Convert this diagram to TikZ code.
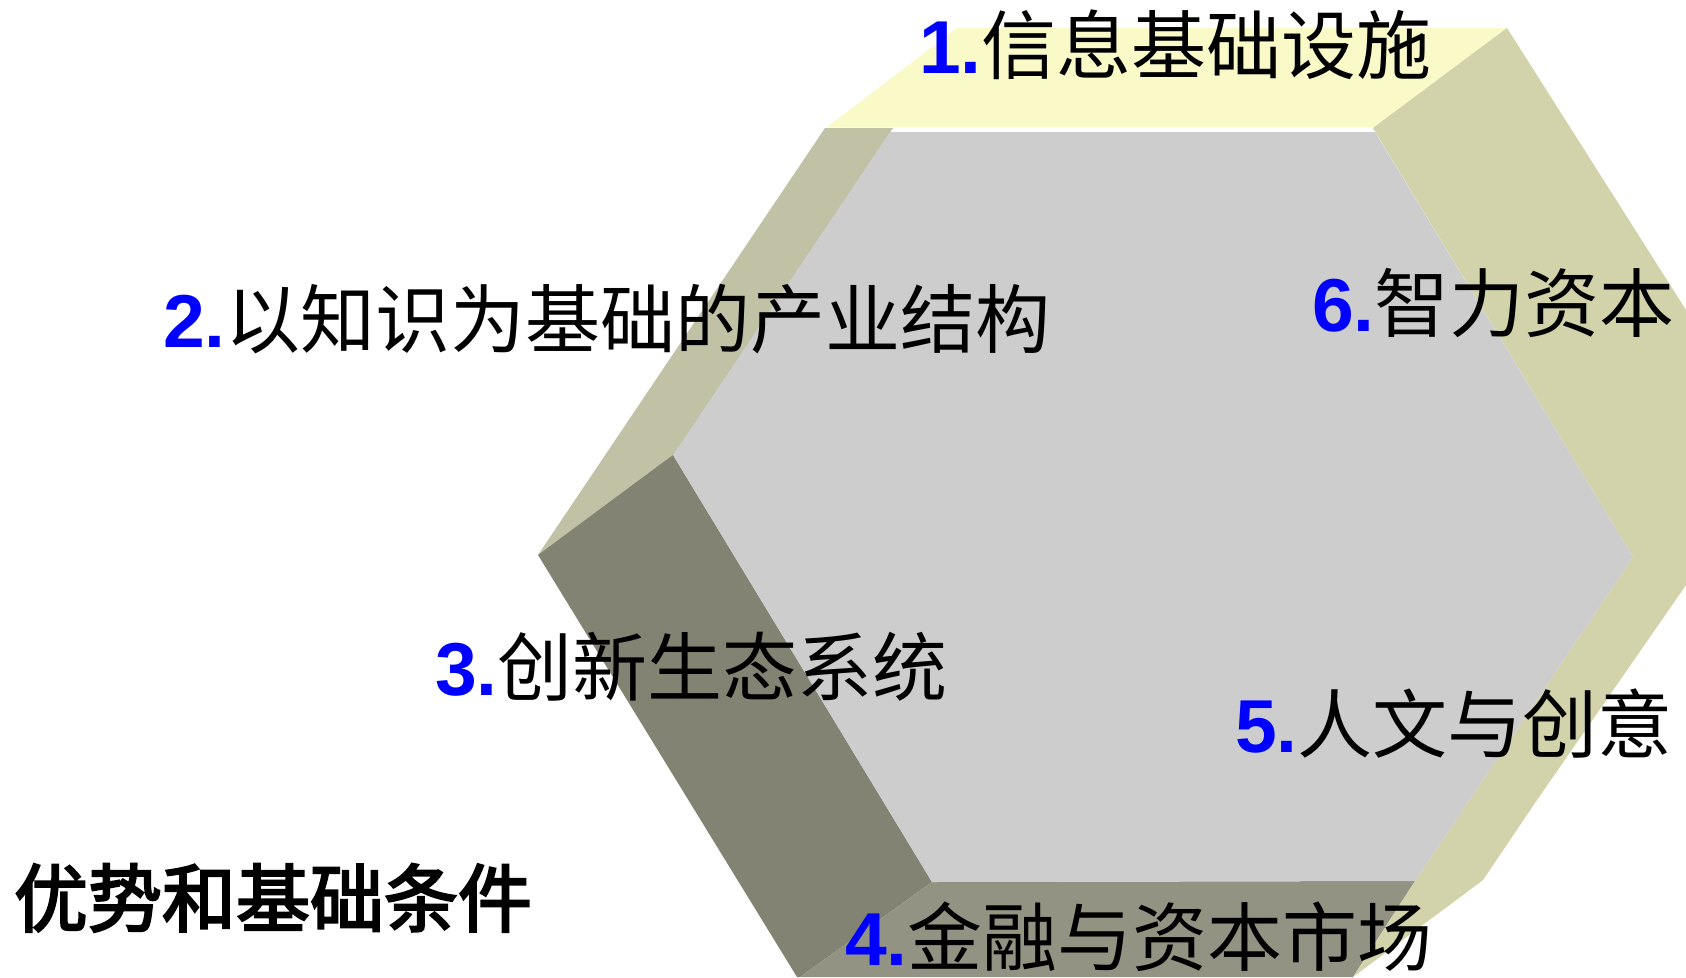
\documentclass[tikz,border=0pt]{standalone}
\usepackage{fontspec}
\newfontfamily\cjk{Noto Sans CJK SC}
\newfontfamily\cjkmid{Noto Sans CJK SC}[FakeBold=3]
\newfontfamily\arial{Liberation Sans}
\definecolor{topface}{HTML}{FAFAC8}
\definecolor{leftface}{HTML}{C1C1A6}
\definecolor{darkface}{HTML}{838373}
\definecolor{bottomface}{HTML}{939383}
\definecolor{rightface}{HTML}{D3D3AB}
\definecolor{innerface}{HTML}{CDCDCD}
\definecolor{numblue}{HTML}{0000FF}
\tikzset{
  lbl/.style={anchor=base west, inner sep=0pt, outer sep=0pt, font=\cjk\fontsize{75}{80}\selectfont, text=black},
  ttl/.style={anchor=base west, inner sep=0pt, outer sep=0pt, font=\cjkmid\fontsize{74}{80}\selectfont, text=black},
}
\newcommand{\numb}[1]{{\arial\bfseries\color{numblue}#1}}
\begin{document}
\begin{tikzpicture}[x=1pt,y=-1pt]
\useasboundingbox (0,0) rectangle (1686,977);
\fill[white] (0,0) rectangle (1686,977);
% faces of the hexagonal frame
\fill[topface] (827,127) -- (957,28) -- (1507,28) -- (1375,127) -- cycle;
\fill[leftface] (825,128) -- (893,128) -- (675,455) -- (538,555) -- cycle;
\fill[darkface] (538,555) -- (673,455) -- (932,882) -- (800,977) -- (797,977) -- cycle;
\fill[bottomface] (932,882) -- (1415,881) -- (1353,977) -- (800,977) -- cycle;
\fill[rightface] (1373,128) -- (1507,28) -- (1686,310) -- (1686,585) -- (1537,800) -- (1483,880) -- (1353,977) -- (1415,881) -- (1633,557) -- cycle;
\fill[innerface] (890,132) -- (1375,132) -- (1633,557) -- (1415,881) -- (932,882) -- (673,455) -- cycle;
% labels
\node[lbl] (l1) at (919,73) {\numb{1.}信息基础设施};
\node[lbl] (l2) at (163,347) {\numb{2.}以知识为基础的产业结构};
\node[lbl] (l3) at (435,695) {\numb{3.}创新生态系统};
\node[lbl] (l4) at (845,965) {\numb{4.}金融与资本市场};
\node[lbl] (l5) at (1235,752) {\numb{5.}人文与创意};
\node[lbl] (l6) at (1312,331) {\numb{6.}智力资本};
\node[ttl] (t) at (14,926) {优势和基础条件};
\end{tikzpicture}
\end{document}
